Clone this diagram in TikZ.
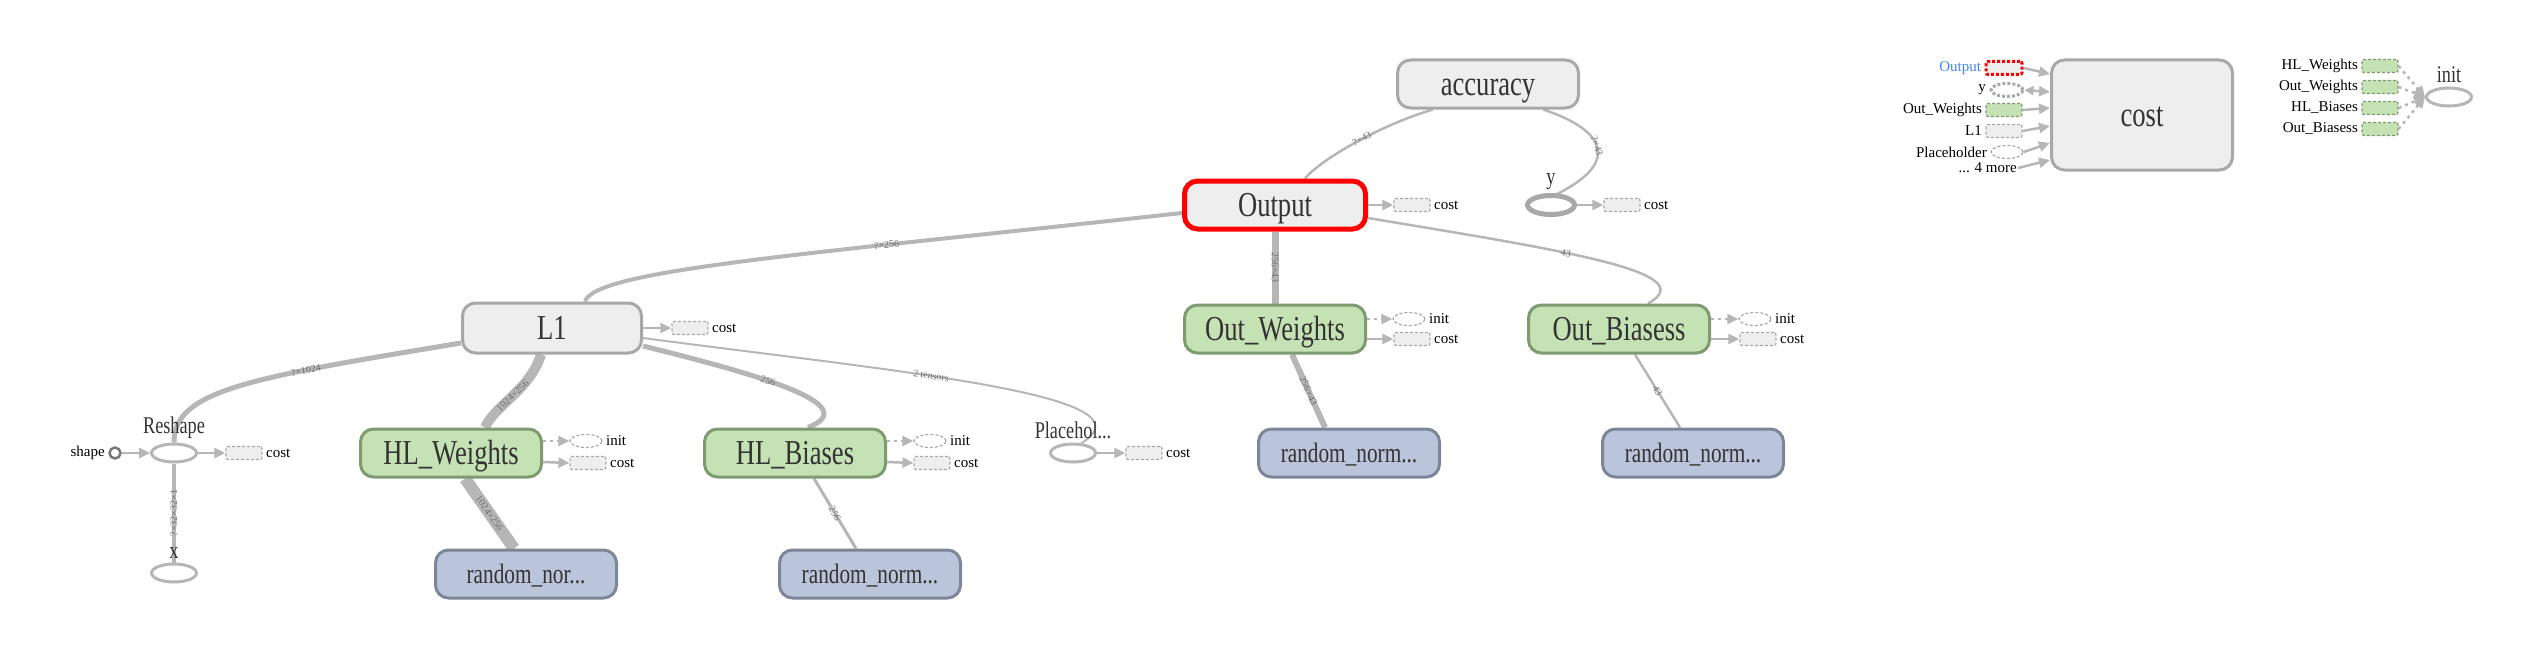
\documentclass[tikz,border=0pt]{standalone}
\usepackage{fontspec}
\setmainfont{Liberation Serif}
\newfontfamily\condfont[FakeStretch=0.76]{Liberation Serif}
\usetikzlibrary{shapes.geometric,arrows.meta,calc,backgrounds}
\definecolor{txt}{RGB}{51,51,51}
\definecolor{edgec}{RGB}{182,182,182}
\definecolor{grayfill}{RGB}{238,238,238}
\definecolor{graydraw}{RGB}{168,168,168}
\definecolor{greenfill}{RGB}{197,226,180}
\definecolor{greendraw}{RGB}{126,154,112}
\definecolor{bluefill}{RGB}{186,197,220}
\definecolor{bluedraw}{RGB}{125,133,152}
\definecolor{redc}{RGB}{255,0,0}
\definecolor{bluetxt}{RGB}{66,133,244}
\definecolor{lbl}{RGB}{110,110,110}
\definecolor{darkring}{RGB}{120,120,120}
\tikzset{
 opbox/.style={rectangle, rounded corners=13pt, line width=3pt, minimum width=181pt, minimum height=48pt, inner sep=0pt, text=txt, text height=25pt, text depth=2pt, font=\condfont\fontsize{35}{40}\selectfont},
 graybox/.style={opbox, fill=grayfill, draw=graydraw},
 greenbox/.style={opbox, fill=greenfill, draw=greendraw},
 bluebox/.style={opbox, fill=bluefill, draw=bluedraw, text height=20pt, text depth=2pt, font=\condfont\fontsize{28}{32}\selectfont},
 opell/.style={ellipse, draw=edgec, line width=3pt, minimum width=45pt, minimum height=18pt, inner sep=0pt},
 stubbox/.style={rectangle, rounded corners=2pt, draw=graydraw, fill=grayfill, dash pattern=on 3pt off 2pt, line width=1.2pt, minimum width=36pt, minimum height=13pt, inner sep=0pt},
 greenstub/.style={stubbox, draw=greendraw, fill=greenfill},
 stubell/.style={ellipse, draw=graydraw, fill=white, dash pattern=on 3pt off 2pt, line width=1.2pt, minimum width=32pt, minimum height=13pt, inner sep=0pt},
 smalllbl/.style={font=\fontsize{15}{18}\selectfont, text=black},
 midlbl/.style={font=\condfont\fontsize{24}{28}\selectfont, text=txt},
 edgeln/.style={draw=edgec, line width=2.5pt},
 arrln/.style={draw=edgec, line width=2.5pt, -{Triangle[length=11pt,width=10pt]}},
 biarr/.style={draw=edgec, line width=2.5pt, {Triangle[length=9pt,width=9pt]}-{Triangle[length=11pt,width=10pt]}},
 dotarr/.style={arrln, dash pattern=on 3pt off 4pt},
 elab/.style={font=\fontsize{10}{12}\selectfont, text=lbl, sloped, inner sep=1pt},
}
\begin{document}
\begin{tikzpicture}[x=1pt,y=-1pt]
\useasboundingbox (0,0) rectangle (2533,661);
% main nodes
\node[graybox] (acc) at (1488,84) {accuracy};
\node[graybox, draw=redc, line width=5pt] (out) at (1275,205) {Output};
\node[opell, line width=5pt, draw=graydraw, minimum width=47pt, minimum height=19pt, label={[midlbl]above:y}] (y) at (1551,205) {};
\node[greenbox] (ow) at (1275,329) {Out\_Weights};
\node[greenbox] (ob) at (1619,329) {Out\_Biasess};
\node[bluebox] (rn1) at (1349,453) {random\_norm...};
\node[bluebox] (rn2) at (1693,453) {random\_norm...};
\node[graybox, minimum width=179pt, minimum height=50pt] (l1) at (552,328) {L1};
\node[greenbox] (hlw) at (451,453) {HL\_Weights};
\node[greenbox] (hlb) at (795,453) {HL\_Biases};
\node[bluebox] (rn3) at (526,574) {random\_nor...};
\node[bluebox] (rn4) at (870,574) {random\_norm...};
\node[opell, label={[midlbl]above:Placehol...}] (ph) at (1073,453) {};
\node[opell, label={[midlbl]above:Reshape}] (rs) at (174,453) {};
\node[opell, label={[midlbl]above:x}] (xx) at (174,573) {};
\node[circle, draw=darkring, line width=2.5pt, minimum size=11pt, inner sep=0pt, label={[smalllbl]left:shape}] (sh) at (115,453) {};
% data edges
\begin{pgfonlayer}{background}
\draw[edgeln] ($(acc.south)+(-55,0)$) .. controls (1380,125) and (1320,160) .. ($(out.north)+(30,0)$) node[elab,pos=0.45]{?×43};
\draw[edgeln] ($(acc.south)+(55,0)$) .. controls (1600,128) and (1625,160) .. ($(y.north)+(6,1)$) node[elab,pos=0.5]{?×43};
\draw[edgeln, line width=4pt] ($(out.west)+(0,8)$) .. controls (800,255) and (595,270) .. ($(l1.north)+(33,0)$) node[elab,pos=0.3]{?×256};
\draw[edgeln, line width=7pt] (out.south) -- (ow.north) node[elab,midway]{256×43};
\draw[edgeln] ($(out.east)+(0,13)$) .. controls (1560,250) and (1705,272) .. ($(ob.north)+(29,0)$) node[elab,pos=0.4]{43};
\draw[edgeln, line width=6pt] ($(ow.south)+(17,0)$) -- ($(rn1.north)+(-24,0)$) node[elab,midway]{256×43};
\draw[edgeln] ($(ob.south)+(16,0)$) -- ($(rn2.north)+(-13,0)$) node[elab,midway]{43};
\draw[edgeln, line width=5pt] ($(l1.west)+(0,15)$) .. controls (250,378) and (174,390) .. (rs.north) node[elab,pos=0.3]{?×1024};
\draw[edgeln, line width=10pt] ($(l1.south)+(-11,0)$) .. controls (530,390) and (495,405) .. ($(hlw.north)+(34,0)$) node[elab,pos=0.5]{1024×256};
\draw[edgeln, line width=5pt] ($(l1.east)+(0,18)$) .. controls (760,375) and (865,405) .. ($(hlb.north)+(13,0)$) node[elab,pos=0.4]{256};
\draw[edgeln, line width=2pt] ($(l1.east)+(0,10)$) .. controls (900,372) and (1160,395) .. ($(ph.north)+(8,1)$) node[elab,pos=0.4]{2 tensors};
\draw[edgeln, line width=4pt] (xx.north) -- (rs.south) node[elab,midway]{?×32×32×1};
\draw[edgeln, line width=12pt] ($(hlw.south)+(14,0)$) -- ($(rn3.north)+(-12,0)$) node[elab,midway]{1024×256};
\draw[edgeln, line width=3pt] ($(hlb.south)+(19,0)$) -- ($(rn4.north)+(-14,0)$) node[elab,midway]{256};
\end{pgfonlayer}
% stubs
\node[stubbox, label={[smalllbl]right:cost}] (outc) at (1412,205) {};
\draw[arrln] (out.east) -- (outc.west);
\node[stubbox, label={[smalllbl]right:cost}] (yc) at (1622,205) {};
\draw[arrln] (y.east) -- (yc.west);
\node[stubell, label={[smalllbl]right:init}] (owi) at (1409,319) {};
\node[stubbox, label={[smalllbl]right:cost}] (owc) at (1412,339) {};
\draw[dotarr] ($(ow.east)+(0,-10)$) -- (owi.west);
\draw[arrln] ($(ow.east)+(0,10)$) -- (owc.west);
\node[stubell, label={[smalllbl]right:init}] (obi) at (1755,319) {};
\node[stubbox, label={[smalllbl]right:cost}] (obc) at (1758,339) {};
\draw[dotarr] ($(ob.east)+(0,-10)$) -- (obi.west);
\draw[arrln] ($(ob.east)+(0,10)$) -- (obc.west);
\node[stubbox, label={[smalllbl]right:cost}] (l1c) at (690,328) {};
\draw[arrln] (l1.east) -- (l1c.west);
\node[stubell, label={[smalllbl]right:init}] (hlwi) at (586,441) {};
\node[stubbox, label={[smalllbl]right:cost}] (hlwc) at (588,463) {};
\draw[dotarr] ($(hlw.east)+(0,-12)$) -- (hlwi.west);
\draw[arrln] ($(hlw.east)+(0,9)$) -- (hlwc.west);
\node[stubell, label={[smalllbl]right:init}] (hlbi) at (930,441) {};
\node[stubbox, label={[smalllbl]right:cost}] (hlbc) at (932,463) {};
\draw[dotarr] ($(hlb.east)+(0,-12)$) -- (hlbi.west);
\draw[arrln] ($(hlb.east)+(0,9)$) -- (hlbc.west);
\node[stubbox, label={[smalllbl]right:cost}] (phc) at (1144,453) {};
\draw[arrln] (ph.east) -- (phc.west);
\node[stubbox, label={[smalllbl]right:cost}] (rsc) at (244,453) {};
\draw[arrln] (rs.east) -- (rsc.west);
\draw[arrln] (sh.east) -- (rs.west);
% cost group
\node[graybox, minimum height=110pt] (cost) at (2142,115) {cost};
\node[stubbox, draw=redc, line width=3pt, label={[smalllbl, text=bluetxt]left:Output}] (ci1) at (2004,68) {};
\node[stubell, line width=3pt, label={[smalllbl]left:y}] (ci2) at (2007,90) {};
\node[greenstub, label={[smalllbl]left:Out\_Weights}] (ci3) at (2004,110) {};
\node[stubbox, label={[smalllbl]left:L1}] (ci4) at (2004,131) {};
\node[stubell, label={[smalllbl]left:Placeholder}] (ci5) at (2007,152) {};
\node[smalllbl, anchor=east, inner sep=1pt] (ci6) at (2018,168) {... 4 more};
\draw[arrln] (ci1.east) -- ($(cost.west)+(0,-41)$);
\draw[biarr] (ci2.east) -- ($(cost.west)+(0,-23)$);
\draw[arrln] (ci3.east) -- ($(cost.west)+(0,-7)$);
\draw[arrln] (ci4.east) -- ($(cost.west)+(0,11)$);
\draw[arrln] (ci5.east) -- ($(cost.west)+(0,28)$);
\draw[arrln] (ci6.east) -- ($(cost.west)+(0,45)$);
% init group
\node[opell, label={[midlbl]above:init}] (init) at (2449,97) {};
\node[greenstub, label={[smalllbl]left:HL\_Weights}] (i1) at (2380,66) {};
\node[greenstub, label={[smalllbl]left:Out\_Weights}] (i2) at (2380,87) {};
\node[greenstub, label={[smalllbl]left:HL\_Biases}] (i3) at (2380,108) {};
\node[greenstub, label={[smalllbl]left:Out\_Biasess}] (i4) at (2380,129) {};
\draw[dotarr] (i1.east) -- (init.west);
\draw[dotarr] (i2.east) -- (init.west);
\draw[dotarr] (i3.east) -- (init.west);
\draw[dotarr] (i4.east) -- (init.west);
\end{tikzpicture}
\end{document}
